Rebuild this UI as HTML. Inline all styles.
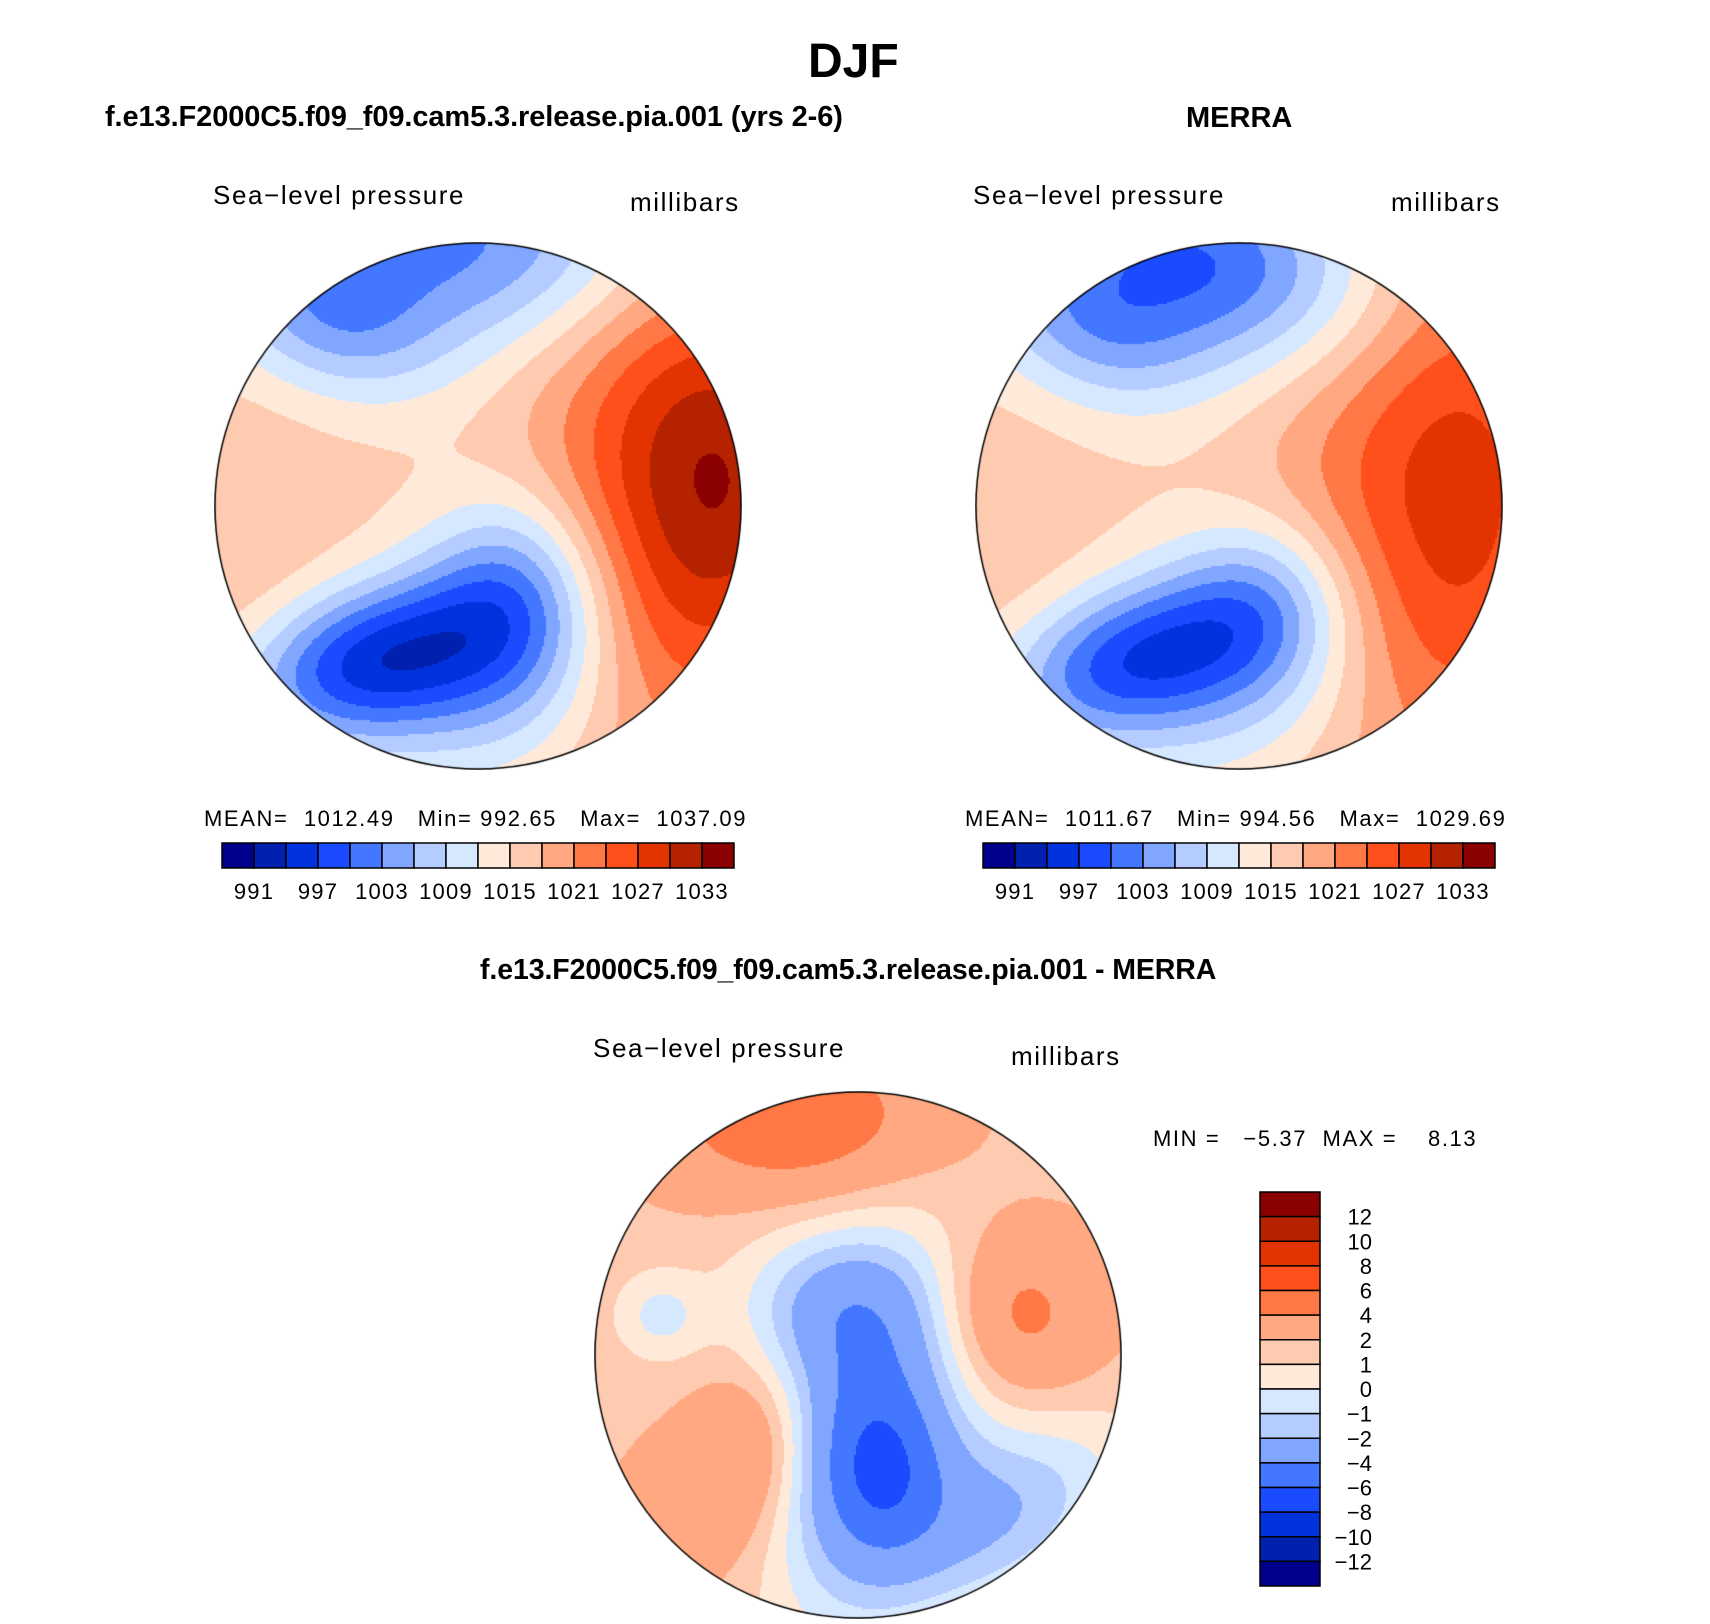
<!DOCTYPE html>
<html><head><meta charset="utf-8"><style>
body{margin:0;background:#fff;}
#root{position:relative;width:1710px;height:1624px;background:#fff;overflow:hidden;font-family:"Liberation Sans",sans-serif;color:#000;}
.t{position:absolute;white-space:nowrap;}
.b{font-weight:bold;}
.lab{font-size:26px;letter-spacing:1.6px;}
canvas{position:absolute;}
</style></head><body>
<div id="root">
<div class="t b" style="left:808px;top:34px;font-size:48px;">DJF</div>
<div class="t b" style="left:105px;top:101px;font-size:29px;letter-spacing:-0.1px;">f.e13.F2000C5.f09_f09.cam5.3.release.pia.001 (yrs 2-6)</div>
<div class="t b" style="left:1186px;top:102px;font-size:29px;">MERRA</div>
<div class="t lab" style="left:213px;top:180px;">Sea−level pressure</div>
<div class="t lab" style="left:630px;top:187px;">millibars</div>
<div class="t lab" style="left:973px;top:180px;">Sea−level pressure</div>
<div class="t lab" style="left:1391px;top:187px;">millibars</div>
<div class="t lab" style="left:204px;top:806px;font-size:22px;letter-spacing:1.6px;">MEAN=&nbsp; 1012.49&nbsp;&nbsp; Min=&nbsp;992.65&nbsp;&nbsp; Max=&nbsp; 1037.09</div>
<div class="t lab" style="left:965px;top:806px;font-size:22px;letter-spacing:1.6px;">MEAN=&nbsp; 1011.67&nbsp;&nbsp; Min=&nbsp;994.56&nbsp;&nbsp; Max=&nbsp; 1029.69</div>
<div class="t b" style="left:480px;top:954px;font-size:28.5px;letter-spacing:-0.1px;">f.e13.F2000C5.f09_f09.cam5.3.release.pia.001 - MERRA</div>
<div class="t lab" style="left:593px;top:1033px;">Sea−level pressure</div>
<div class="t lab" style="left:1011px;top:1041px;">millibars</div>
<div class="t lab" style="left:1153px;top:1126px;font-size:22px;letter-spacing:1.6px;">MIN =&nbsp;&nbsp; −5.37&nbsp; MAX =&nbsp;&nbsp;&nbsp; 8.13</div>
<canvas id="c1" width="528" height="528" style="left:214px;top:242px;"></canvas>
<canvas id="c2" width="528" height="528" style="left:975px;top:242px;"></canvas>
<canvas id="c3" width="528" height="528" style="left:594px;top:1091px;"></canvas>
<svg id="ov" width="1710" height="1624" style="position:absolute;left:0;top:0;"></svg>
</div>
<script>
// colour table and contour levels
const colors=["#00008C","#0020B0","#0033DD","#1A4BFF","#4477FF","#80A6FF","#B4CCFF","#D6E8FF","#FFEADA","#FFCBB0","#FFA882","#FF7845","#FF501C","#E23300","#B42200","#8B0000"];
const absLevels=[991,994,997,1000,1003,1006,1009,1012,1015,1018,1021,1024,1027,1030,1033];
const absTickLabels=["991","997","1003","1009","1015","1021","1027","1033"];
const diffLevels=[-12,-10,-8,-6,-4,-2,-1,0,1,2,4,6,8,10,12];
const diffTickLabels=["12","10","8","6","4","2","1","0","−1","−2","−4","−6","−8","−10","−12"];
// pressure anomaly centres: amplitude, centre x, centre y (normalized disc coords), spread x, spread y, rotation deg
const modelBase=1016;
const modelAmp=[-18,-14,-6,-14,-8,11,9,2];
const modelCx=[-0.4,0.15,0.0,0.0,-0.55,1.0,0.65,-0.9];
const modelCy=[0.58,0.35,0.75,-1.0,-0.7,-0.1,-0.1,0.2];
const modelSx=[0.35,0.25,0.4,0.6,0.3,0.3,0.35,0.25];
const modelSy=[0.2,0.28,0.25,0.3,0.2,0.5,0.9,0.4];
const modelRot=[-15,0,0,0,20,0,0,0];
const merraBase=1015.5;
const merraAmp=[-16,-11,-5,-16,-7,7,8,2];
const merraCx=[-0.4,0.1,0.0,-0.12,-0.55,0.95,0.6,-0.9];
const merraCy=[0.58,0.38,0.75,-0.92,-0.65,-0.1,0.0,0.2];
const merraSx=[0.35,0.25,0.4,0.5,0.3,0.3,0.38,0.25];
const merraSy=[0.2,0.24,0.25,0.28,0.2,0.7,0.9,0.4];
const merraRot=[-15,0,0,10,20,0,0,0];
const diffBase=1.7;
const diffAmp=[-6,-2.5,-3.5,-3,4,3,2.5,-2,1.5];
const diffCx=[0.05,0.1,0.55,-0.1,-0.25,0.6,-0.4,-0.75,-0.6];
const diffCy=[0.3,0.45,0.6,-0.2,-0.9,-0.15,0.35,-0.15,0.6];
const diffSx=[0.25,0.15,0.35,0.25,0.35,0.22,0.15,0.12,0.2];
const diffSy=[0.45,0.2,0.22,0.2,0.2,0.22,0.2,0.12,0.2];
const diffRot=[10,0,-30,0,0,0,0,0,0];

function field(base,A,X,Y,SX,SY,R){
  return function(x,y){let v=base;
    for(let i=0;i<A.length;i++){const a=R[i]*Math.PI/180,dx=x-X[i],dy=y-Y[i];
      const u=dx*Math.cos(a)+dy*Math.sin(a),w=-dx*Math.sin(a)+dy*Math.cos(a);
      v+=A[i]*Math.exp(-0.5*(u*u/(SX[i]*SX[i])+w*w/(SY[i]*SY[i])));}
    return v;};
}
function colorFor(v,levels){let k=0;while(k<levels.length&&v>=levels[k])k++;return colors[k];}
function drawMap(id,f,levels){
  const c=document.getElementById(id),ctx=c.getContext('2d'),R=264,s=2;
  ctx.save();ctx.beginPath();ctx.arc(R,R,R-1,0,2*Math.PI);ctx.clip();
  for(let py=0;py<528;py+=s)for(let px=0;px<528;px+=s){
    const x=(px+1-R)/R,y=(py+1-R)/R;if(x*x+y*y>1.02)continue;
    ctx.fillStyle=colorFor(f(x,y),levels);ctx.fillRect(px,py,s,s);}
  ctx.restore();
  ctx.beginPath();ctx.arc(R,R,R-1,0,2*Math.PI);ctx.strokeStyle='#000';ctx.lineWidth=1.5;ctx.stroke();
}
drawMap('c1',field(modelBase,modelAmp,modelCx,modelCy,modelSx,modelSy,modelRot),absLevels);
drawMap('c2',field(merraBase,merraAmp,merraCx,merraCy,merraSx,merraSy,merraRot),absLevels);
drawMap('c3',field(diffBase,diffAmp,diffCx,diffCy,diffSx,diffSy,diffRot),diffLevels);

const NS='http://www.w3.org/2000/svg',ov=document.getElementById('ov');
function mk(tag,attrs){const e=document.createElementNS(NS,tag);for(const k in attrs)e.setAttribute(k,attrs[k]);ov.appendChild(e);return e;}
function hbar(x0,y0,w,h,name){
  const bw=w/colors.length;
  colors.forEach((col,i)=>{const r=mk('rect',{x:x0+i*bw,y:y0,width:bw,height:h,fill:col,stroke:'#000','stroke-width':1.5});
    
    });
  absTickLabels.forEach((lab,j)=>{const t=mk('text',{x:x0+(1+2*j)*bw,y:y0+h+31,'text-anchor':'middle','font-size':22,'letter-spacing':1.2,'font-family':'Liberation Sans, sans-serif'});t.textContent=lab;
    
    });
}
hbar(222,843,512,25,'model-colorbar');
hbar(983,843,512,25,'merra-colorbar');
(function(){const x0=1260,y0=1192,w=60,h=394,bh=h/colors.length;
  colors.slice().reverse().forEach((col,i)=>{const r=mk('rect',{x:x0,y:y0+i*bh,width:w,height:bh,fill:col,stroke:'#000','stroke-width':1.5});
    
    });
  diffTickLabels.forEach((lab,j)=>{const t=mk('text',{x:1372,y:y0+(j+1)*bh+8,'text-anchor':'end','font-size':22,'font-family':'Liberation Sans, sans-serif'});t.textContent=lab;
    
    });
})();
</script>
</body></html>
